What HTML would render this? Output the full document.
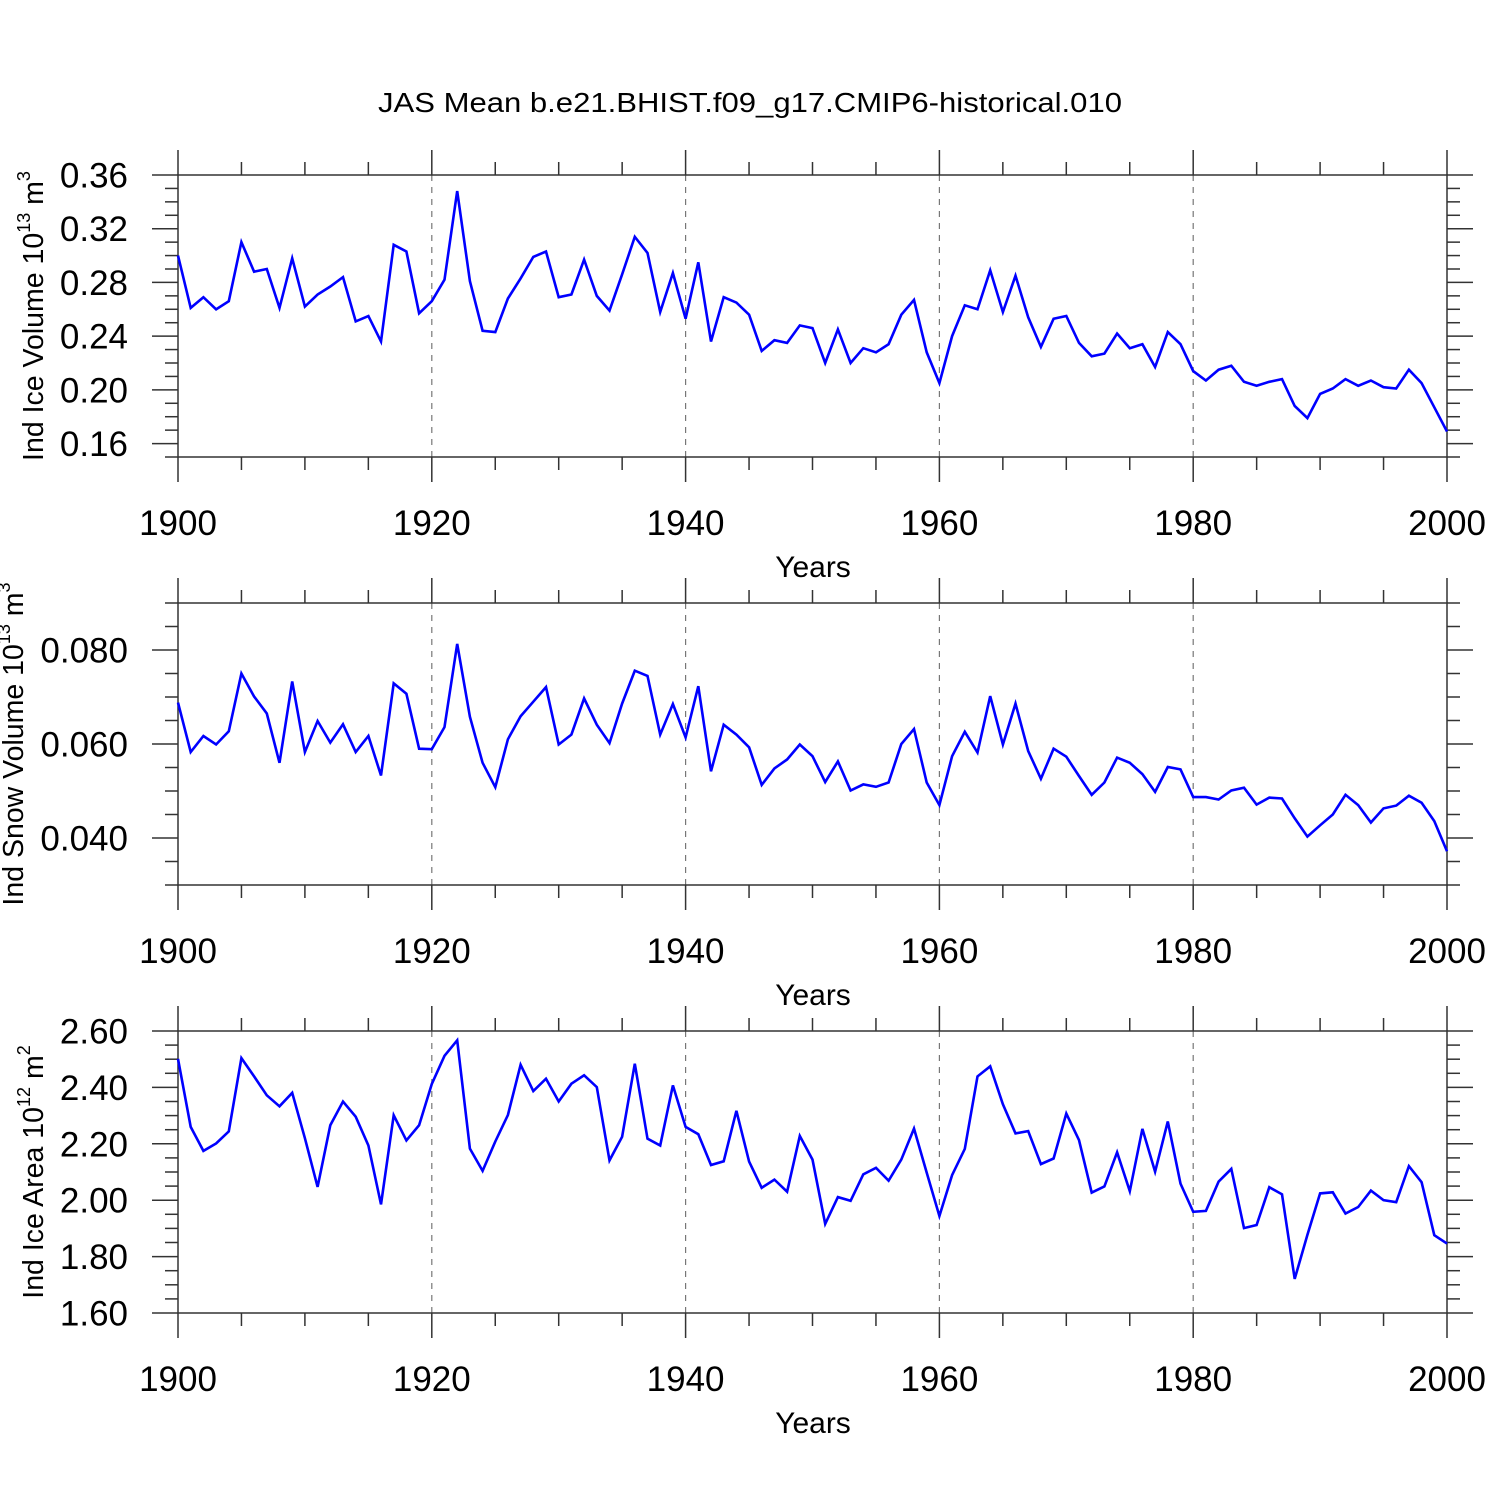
<!DOCTYPE html>
<html><head><meta charset="utf-8"><title>JAS Mean chart</title>
<style>html,body{margin:0;padding:0;background:#fff;}svg{display:block;font-family:"Liberation Sans",sans-serif;}</style>
</head><body>
<svg id="chart" width="1500" height="1500" viewBox="0 0 1500 1500" xmlns="http://www.w3.org/2000/svg">
<rect width="1500" height="1500" fill="#fff"/>
<text x="750" y="112" font-size="28" text-anchor="middle" textLength="744" lengthAdjust="spacingAndGlyphs">JAS Mean b.e21.BHIST.f09_g17.CMIP6-historical.010</text>
</svg>
<script>
const years = [];
for (let y = 1900; y <= 2000; y++) years.push(y);
const iceVolume = [0.300,0.261,0.269,0.260,0.266,0.310,0.288,0.290,0.261,0.298,0.262,0.271,0.277,0.284,0.251,0.255,0.236,0.308,0.303,0.257,0.266,0.282,0.348,0.281,0.244,0.243,0.268,0.283,0.299,0.303,0.269,0.271,0.297,0.270,0.259,0.286,0.314,0.302,0.258,0.287,0.253,0.295,0.236,0.269,0.265,0.256,0.229,0.237,0.235,0.248,0.246,0.220,0.245,0.220,0.231,0.228,0.234,0.256,0.267,0.228,0.205,0.240,0.263,0.260,0.289,0.258,0.285,0.254,0.232,0.253,0.255,0.235,0.225,0.227,0.242,0.231,0.234,0.217,0.243,0.234,0.214,0.207,0.215,0.218,0.206,0.203,0.206,0.208,0.188,0.179,0.197,0.201,0.208,0.203,0.207,0.202,0.201,0.215,0.205,0.187,0.169];
const snowVolume = [0.0688,0.0583,0.0617,0.0599,0.0627,0.0750,0.0701,0.0665,0.0560,0.0733,0.0583,0.0649,0.0603,0.0642,0.0583,0.0617,0.0533,0.0729,0.0707,0.0590,0.0589,0.0636,0.0813,0.0658,0.0560,0.0508,0.0610,0.0659,0.0690,0.0721,0.0599,0.0620,0.0697,0.0641,0.0602,0.0686,0.0756,0.0745,0.0620,0.0685,0.0614,0.0723,0.0542,0.0641,0.0620,0.0593,0.0513,0.0548,0.0567,0.0599,0.0574,0.0519,0.0563,0.0501,0.0514,0.0509,0.0518,0.0600,0.0632,0.0518,0.0470,0.0574,0.0626,0.0582,0.0702,0.0599,0.0686,0.0585,0.0526,0.0590,0.0573,0.0532,0.0492,0.0518,0.0571,0.0560,0.0536,0.0498,0.0551,0.0546,0.0487,0.0487,0.0482,0.0501,0.0507,0.0471,0.0486,0.0484,0.0442,0.0403,0.0427,0.0450,0.0492,0.0470,0.0433,0.0463,0.0469,0.0490,0.0475,0.0436,0.0372];
const iceArea = [2.501,2.260,2.175,2.201,2.244,2.504,2.439,2.372,2.333,2.381,2.220,2.047,2.266,2.350,2.296,2.194,1.985,2.301,2.212,2.266,2.412,2.512,2.567,2.183,2.104,2.208,2.302,2.480,2.387,2.431,2.350,2.413,2.443,2.401,2.141,2.225,2.484,2.218,2.194,2.407,2.260,2.234,2.125,2.138,2.317,2.137,2.044,2.073,2.030,2.228,2.144,1.916,2.011,1.998,2.092,2.115,2.069,2.144,2.254,2.098,1.944,2.089,2.182,2.439,2.475,2.340,2.237,2.245,2.128,2.148,2.307,2.213,2.027,2.049,2.170,2.032,2.253,2.101,2.279,2.059,1.959,1.962,2.066,2.111,1.901,1.912,2.046,2.021,1.721,1.877,2.024,2.028,1.953,1.976,2.034,2.000,1.993,2.121,2.064,1.876,1.846];
const xTickLabels = ["1900","1920","1940","1960","1980","2000"];
const ticks1 = ["0.16","0.20","0.24","0.28","0.32","0.36"];
const ticks2 = ["0.040","0.060","0.080"];
const ticks3 = ["1.60","1.80","2.00","2.20","2.40","2.60"];

const NS = "http://www.w3.org/2000/svg";
const svg = document.getElementById("chart");
function mk(tag, attrs, parent) {
  const e = document.createElementNS(NS, tag);
  for (const k in attrs) e.setAttribute(k, attrs[k]);
  (parent || svg).appendChild(e);
  return e;
}
const X0 = 178, X1 = 1447;
const xs = yr => X0 + (yr - 1900) / 100 * (X1 - X0);

const panels = [
  {name:"ice-volume", data:iceVolume, ticks:ticks1, top:175, bot:457, ymin:0.15, ymax:0.36, minor:0.01, titleX:33, title:["Ind Ice Volume 10","13"," m","3"]},
  {name:"snow-volume", data:snowVolume, ticks:ticks2, top:603, bot:885, ymin:0.03, ymax:0.09, minor:0.005, titleX:13, title:["Ind Snow Volume 10","13"," m","3"]},
  {name:"ice-area", data:iceArea, ticks:ticks3, top:1031, bot:1313, ymin:1.60, ymax:2.60, minor:0.05, titleX:33, title:["Ind Ice Area 10","12"," m","2"]}
];

panels.forEach(p => {
  const g = mk("g", {});
  
  
  const ys = v => p.bot - (v - p.ymin) / (p.ymax - p.ymin) * (p.bot - p.top);
  for (let yr = 1920; yr <= 1980; yr += 20) {
    const l = mk("line", {x1:xs(yr), x2:xs(yr), y1:p.top, y2:p.bot, stroke:"#777", "stroke-width":1.2, "stroke-dasharray":"6,6"}, g);
    
    
  }
  for (let yr = 1900; yr <= 2000; yr += 5) {
    const major = yr % 20 === 0;
    const len = major ? 25 : 13;
    mk("line", {x1:xs(yr), x2:xs(yr), y1:p.top - len, y2:p.top, stroke:"#333", "stroke-width":1.5}, g);
    mk("line", {x1:xs(yr), x2:xs(yr), y1:p.bot, y2:p.bot + len, stroke:"#333", "stroke-width":1.5}, g);
  }
  const nMinor = Math.round((p.ymax - p.ymin) / p.minor);
  const majVals = p.ticks.map(Number);
  for (let i = 0; i <= nMinor; i++) {
    const v = p.ymin + i * p.minor;
    const major = majVals.some(m => Math.abs(m - v) < p.minor / 10);
    const len = major ? 26 : 13;
    const y = ys(v);
    mk("line", {x1:X0 - len, x2:X0, y1:y, y2:y, stroke:"#333", "stroke-width":1.5}, g);
    mk("line", {x1:X1, x2:X1 + len, y1:y, y2:y, stroke:"#333", "stroke-width":1.5}, g);
  }
  const fr = mk("rect", {x:X0, y:p.top, width:X1 - X0, height:p.bot - p.top, fill:"none", stroke:"#333", "stroke-width":1.5}, g);
  
  
  p.ticks.forEach(t => {
    const tx = mk("text", {x:128, y:ys(Number(t)) + 12.5, "font-size":35, "text-anchor":"end"}, g);
    
    
    tx.textContent = t;
  });
  xTickLabels.forEach(t => {
    const tx = mk("text", {x:xs(Number(t)), y:p.bot + 78, "font-size":35, "text-anchor":"middle"}, g);
    
    
    tx.textContent = t;
  });
  const xt = mk("text", {x:813, y:p.bot + 120, "font-size":30, "text-anchor":"middle"}, g);
  
  
  xt.textContent = "Years";
  const cy = (p.top + p.bot) / 2;
  const yt = mk("text", {x:0, y:0, "font-size":28.5, "text-anchor":"middle", transform:"translate(" + (p.titleX + 10) + "," + cy + ") rotate(-90)"}, g);
  
  
  const t1 = mk("tspan", {}, yt); t1.textContent = p.title[0];
  const t2 = mk("tspan", {"font-size":18, dy:-13}, yt); t2.textContent = p.title[1];
  const t3 = mk("tspan", {dy:13}, yt); t3.textContent = p.title[2];
  const t4 = mk("tspan", {"font-size":18, dy:-13}, yt); t4.textContent = p.title[3];
  const pts = p.data.map((v, i) => xs(years[i]).toFixed(1) + "," + ys(v).toFixed(1)).join(" ");
  const pl = mk("polyline", {points:pts, fill:"none", stroke:"#0000ff", "stroke-width":2.6, "stroke-linejoin":"miter"}, g);
  
  
});
</script>
</body></html>
